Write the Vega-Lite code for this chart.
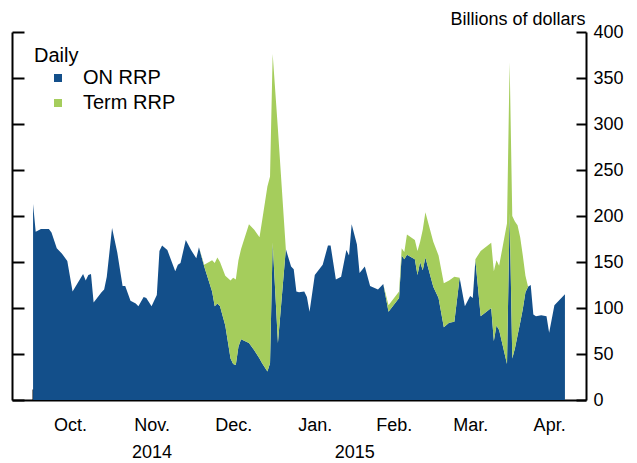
{
  "$schema": "https://vega.github.io/schema/vega-lite/v6.json",
  "width": 574,
  "height": 368,
  "autosize": {"type": "none"},
  "padding": {"left": 12, "top": 32, "right": 51, "bottom": 63},
  "background": "white",
  "config": {
    "view": {"stroke": null},
    "font": "Liberation Sans",
    "axis": {"domainColor": "black", "tickColor": "black", "domainWidth": 2, "tickWidth": 2, "labelColor": "black", "titleColor": "black", "grid": false, "labelFont": "Liberation Sans", "titleFont": "Liberation Sans", "labelOverlap": false, "labelFlush": false},
    "legend": {"labelFont": "Liberation Sans", "titleFont": "Liberation Sans", "labelColor": "black", "titleColor": "black"}
  },
  "resolve": {"axis": {"x": "independent", "y": "independent"}},
  "layer": [
    {
      "data": {"values": [
        {"date": "2014-10-01", "ON RRP": 213, "Term RRP": 0},
        {"date": "2014-10-02", "ON RRP": 183, "Term RRP": 0},
        {"date": "2014-10-04", "ON RRP": 186, "Term RRP": 0},
        {"date": "2014-10-07", "ON RRP": 186, "Term RRP": 0},
        {"date": "2014-10-08", "ON RRP": 182, "Term RRP": 0},
        {"date": "2014-10-10", "ON RRP": 165, "Term RRP": 0},
        {"date": "2014-10-12", "ON RRP": 159, "Term RRP": 0},
        {"date": "2014-10-14", "ON RRP": 151, "Term RRP": 0},
        {"date": "2014-10-16", "ON RRP": 118, "Term RRP": 0},
        {"date": "2014-10-20", "ON RRP": 137, "Term RRP": 0},
        {"date": "2014-10-21", "ON RRP": 130, "Term RRP": 0},
        {"date": "2014-10-22", "ON RRP": 136, "Term RRP": 0},
        {"date": "2014-10-23", "ON RRP": 137, "Term RRP": 0},
        {"date": "2014-10-24", "ON RRP": 106, "Term RRP": 0},
        {"date": "2014-10-27", "ON RRP": 117, "Term RRP": 0},
        {"date": "2014-10-28", "ON RRP": 120, "Term RRP": 0},
        {"date": "2014-10-29", "ON RRP": 134, "Term RRP": 0},
        {"date": "2014-10-31", "ON RRP": 187, "Term RRP": 0},
        {"date": "2014-11-02", "ON RRP": 160, "Term RRP": 0},
        {"date": "2014-11-04", "ON RRP": 124, "Term RRP": 0},
        {"date": "2014-11-05", "ON RRP": 124, "Term RRP": 0},
        {"date": "2014-11-07", "ON RRP": 108, "Term RRP": 0},
        {"date": "2014-11-09", "ON RRP": 105, "Term RRP": 0},
        {"date": "2014-11-10", "ON RRP": 102, "Term RRP": 0},
        {"date": "2014-11-12", "ON RRP": 112, "Term RRP": 0},
        {"date": "2014-11-13", "ON RRP": 111, "Term RRP": 0},
        {"date": "2014-11-15", "ON RRP": 102, "Term RRP": 0},
        {"date": "2014-11-17", "ON RRP": 114, "Term RRP": 0},
        {"date": "2014-11-18", "ON RRP": 162, "Term RRP": 0},
        {"date": "2014-11-19", "ON RRP": 168, "Term RRP": 0},
        {"date": "2014-11-21", "ON RRP": 163, "Term RRP": 0},
        {"date": "2014-11-24", "ON RRP": 140, "Term RRP": 0},
        {"date": "2014-11-25", "ON RRP": 147, "Term RRP": 0},
        {"date": "2014-11-26", "ON RRP": 149, "Term RRP": 0},
        {"date": "2014-11-28", "ON RRP": 174, "Term RRP": 0},
        {"date": "2014-11-30", "ON RRP": 163, "Term RRP": 0},
        {"date": "2014-12-02", "ON RRP": 154, "Term RRP": 0},
        {"date": "2014-12-03", "ON RRP": 166, "Term RRP": 0},
        {"date": "2014-12-05", "ON RRP": 145, "Term RRP": 2},
        {"date": "2014-12-08", "ON RRP": 118, "Term RRP": 34},
        {"date": "2014-12-09", "ON RRP": 102, "Term RRP": 47},
        {"date": "2014-12-10", "ON RRP": 105, "Term RRP": 50},
        {"date": "2014-12-11", "ON RRP": 102, "Term RRP": 48},
        {"date": "2014-12-13", "ON RRP": 81, "Term RRP": 54},
        {"date": "2014-12-15", "ON RRP": 45, "Term RRP": 85},
        {"date": "2014-12-16", "ON RRP": 39, "Term RRP": 94},
        {"date": "2014-12-17", "ON RRP": 38, "Term RRP": 93},
        {"date": "2014-12-18", "ON RRP": 58, "Term RRP": 94},
        {"date": "2014-12-19", "ON RRP": 66, "Term RRP": 98},
        {"date": "2014-12-22", "ON RRP": 62, "Term RRP": 129},
        {"date": "2014-12-24", "ON RRP": 54, "Term RRP": 131},
        {"date": "2014-12-26", "ON RRP": 45, "Term RRP": 132},
        {"date": "2014-12-27", "ON RRP": 40, "Term RRP": 155},
        {"date": "2014-12-29", "ON RRP": 31, "Term RRP": 201},
        {"date": "2014-12-30", "ON RRP": 40, "Term RRP": 203},
        {"date": "2014-12-31", "ON RRP": 171, "Term RRP": 205},
        {"date": "2015-01-02", "ON RRP": 62, "Term RRP": 232},
        {"date": "2015-01-05", "ON RRP": 164, "Term RRP": 0},
        {"date": "2015-01-07", "ON RRP": 145, "Term RRP": 0},
        {"date": "2015-01-08", "ON RRP": 142, "Term RRP": 0},
        {"date": "2015-01-09", "ON RRP": 118, "Term RRP": 0},
        {"date": "2015-01-10", "ON RRP": 117, "Term RRP": 0},
        {"date": "2015-01-12", "ON RRP": 118, "Term RRP": 0},
        {"date": "2015-01-13", "ON RRP": 112, "Term RRP": 0},
        {"date": "2015-01-14", "ON RRP": 96, "Term RRP": 0},
        {"date": "2015-01-16", "ON RRP": 136, "Term RRP": 0},
        {"date": "2015-01-19", "ON RRP": 147, "Term RRP": 0},
        {"date": "2015-01-21", "ON RRP": 168, "Term RRP": 0},
        {"date": "2015-01-22", "ON RRP": 168, "Term RRP": 0},
        {"date": "2015-01-24", "ON RRP": 131, "Term RRP": 0},
        {"date": "2015-01-26", "ON RRP": 134, "Term RRP": 0},
        {"date": "2015-01-28", "ON RRP": 163, "Term RRP": 0},
        {"date": "2015-01-29", "ON RRP": 157, "Term RRP": 0},
        {"date": "2015-01-30", "ON RRP": 191, "Term RRP": 0},
        {"date": "2015-02-01", "ON RRP": 169, "Term RRP": 0},
        {"date": "2015-02-02", "ON RRP": 138, "Term RRP": 0},
        {"date": "2015-02-04", "ON RRP": 145, "Term RRP": 0},
        {"date": "2015-02-06", "ON RRP": 124, "Term RRP": 0},
        {"date": "2015-02-09", "ON RRP": 120, "Term RRP": 0},
        {"date": "2015-02-11", "ON RRP": 126, "Term RRP": 0},
        {"date": "2015-02-13", "ON RRP": 96, "Term RRP": 7},
        {"date": "2015-02-17", "ON RRP": 111, "Term RRP": 7},
        {"date": "2015-02-18", "ON RRP": 157, "Term RRP": 8},
        {"date": "2015-02-19", "ON RRP": 153, "Term RRP": 8},
        {"date": "2015-02-20", "ON RRP": 158, "Term RRP": 22},
        {"date": "2015-02-23", "ON RRP": 153, "Term RRP": 21},
        {"date": "2015-02-24", "ON RRP": 136, "Term RRP": 26},
        {"date": "2015-02-25", "ON RRP": 150, "Term RRP": 22},
        {"date": "2015-02-26", "ON RRP": 141, "Term RRP": 44},
        {"date": "2015-02-27", "ON RRP": 155, "Term RRP": 49},
        {"date": "2015-03-02", "ON RRP": 123, "Term RRP": 49},
        {"date": "2015-03-04", "ON RRP": 111, "Term RRP": 46},
        {"date": "2015-03-06", "ON RRP": 79, "Term RRP": 48},
        {"date": "2015-03-08", "ON RRP": 84, "Term RRP": 46},
        {"date": "2015-03-10", "ON RRP": 85, "Term RRP": 49},
        {"date": "2015-03-12", "ON RRP": 133, "Term RRP": 0},
        {"date": "2015-03-14", "ON RRP": 102, "Term RRP": 0},
        {"date": "2015-03-16", "ON RRP": 113, "Term RRP": 0},
        {"date": "2015-03-17", "ON RRP": 111, "Term RRP": 0},
        {"date": "2015-03-18", "ON RRP": 152, "Term RRP": 1},
        {"date": "2015-03-20", "ON RRP": 91, "Term RRP": 71},
        {"date": "2015-03-24", "ON RRP": 100, "Term RRP": 71},
        {"date": "2015-03-25", "ON RRP": 64, "Term RRP": 76},
        {"date": "2015-03-26", "ON RRP": 81, "Term RRP": 71},
        {"date": "2015-03-27", "ON RRP": 76, "Term RRP": 70},
        {"date": "2015-03-30", "ON RRP": 39, "Term RRP": 153},
        {"date": "2015-03-31", "ON RRP": 203, "Term RRP": 164},
        {"date": "2015-04-01", "ON RRP": 45, "Term RRP": 155},
        {"date": "2015-04-02", "ON RRP": 56, "Term RRP": 138},
        {"date": "2015-04-03", "ON RRP": 70, "Term RRP": 120},
        {"date": "2015-04-04", "ON RRP": 84, "Term RRP": 93},
        {"date": "2015-04-05", "ON RRP": 99, "Term RRP": 58},
        {"date": "2015-04-06", "ON RRP": 117, "Term RRP": 18},
        {"date": "2015-04-07", "ON RRP": 123, "Term RRP": 0},
        {"date": "2015-04-08", "ON RRP": 125, "Term RRP": 0},
        {"date": "2015-04-09", "ON RRP": 93, "Term RRP": 0},
        {"date": "2015-04-10", "ON RRP": 91, "Term RRP": 0},
        {"date": "2015-04-12", "ON RRP": 92, "Term RRP": 0},
        {"date": "2015-04-14", "ON RRP": 91, "Term RRP": 0},
        {"date": "2015-04-15", "ON RRP": 73, "Term RRP": 0},
        {"date": "2015-04-17", "ON RRP": 103, "Term RRP": 0},
        {"date": "2015-04-21", "ON RRP": 115, "Term RRP": 0}
      ]},
      "transform": [{"fold": ["ON RRP", "Term RRP"], "as": ["series", "value"]}],
      "mark": {"type": "area", "interpolate": "linear"},
      "encoding": {
        "x": {
          "field": "date", "type": "temporal",
          "scale": {"type": "utc", "nice": false, "domain": [{"year": 2014, "month": 9, "date": 23, "utc": true}, {"year": 2015, "month": 4, "date": 29, "utc": true}]},
          "axis": {
            "orient": "bottom", "title": null, "labels": false, "tickSize": -11,
            "values": [
              {"year": 2014, "month": 10, "date": 1, "utc": true},
              {"year": 2014, "month": 11, "date": 1, "utc": true},
              {"year": 2014, "month": 12, "date": 1, "utc": true},
              {"year": 2015, "month": 1, "date": 1, "utc": true},
              {"year": 2015, "month": 2, "date": 1, "utc": true},
              {"year": 2015, "month": 3, "date": 1, "utc": true},
              {"year": 2015, "month": 4, "date": 1, "utc": true}
            ]
          }
        },
        "y": {
          "field": "value", "type": "quantitative", "stack": "zero",
          "scale": {"domain": [0, 400], "nice": false},
          "axis": {
            "orient": "right", "values": [0, 50, 100, 150, 200, 250, 300, 350, 400],
            "tickSize": -10, "labelPadding": 17, "labelFontSize": 18, "labelAlign": "left", "labelBaseline": "middle",
            "title": "Billions of dollars", "titleAngle": 0, "titleX": -1, "titleY": -8, "titleAlign": "right", "titleBaseline": "alphabetic", "titleFontSize": 18, "titleFontWeight": "normal"
          }
        },
        "order": {"field": "series", "sort": "ascending"},
        "color": {
          "field": "series", "type": "nominal",
          "scale": {"domain": ["ON RRP", "Term RRP"], "range": ["#134f8a", "#a5cd5c"]},
          "legend": {
            "title": "Daily", "orient": "none", "legendX": 22, "legendY": 14,
            "titleFontSize": 20, "titleFontWeight": "normal", "labelFontSize": 20,
            "symbolType": "square", "symbolSize": 64, "symbolStrokeWidth": 0, "symbolOffset": 14,
            "labelOffset": 15, "rowPadding": 5, "titlePadding": 2
          }
        }
      }
    },
    {
      "data": {"values": [
        {"month": "2014-10-15", "v": 0},
        {"month": "2014-11-15", "v": 0},
        {"month": "2014-12-16", "v": 0},
        {"month": "2015-01-16", "v": 0},
        {"month": "2015-02-15", "v": 0},
        {"month": "2015-03-16", "v": 0},
        {"month": "2015-04-15", "v": 0}
      ]},
      "mark": {"type": "point", "opacity": 0},
      "encoding": {
        "x": {
          "field": "month", "type": "temporal",
          "scale": {"type": "utc", "nice": false, "domain": [{"year": 2014, "month": 9, "date": 23, "utc": true}, {"year": 2015, "month": 4, "date": 29, "utc": true}]},
          "axis": {
            "orient": "bottom", "title": null, "ticks": false, "domain": false, "labelPadding": 16, "labelFontSize": 18, "labelAlign": "center",
            "labelExpr": "utcFormat(datum.value, '%b.')",
            "values": [
              {"year": 2014, "month": 10, "date": 15, "utc": true},
              {"year": 2014, "month": 11, "date": 15, "utc": true},
              {"year": 2014, "month": 12, "date": 16, "utc": true},
              {"year": 2015, "month": 1, "date": 16, "utc": true},
              {"year": 2015, "month": 2, "date": 15, "utc": true},
              {"year": 2015, "month": 3, "date": 16, "utc": true},
              {"year": 2015, "month": 4, "date": 15, "utc": true}
            ]
          }
        },
        "y": {
          "field": "v", "type": "quantitative",
          "scale": {"domain": [0, 400], "nice": false},
          "axis": {"orient": "left", "title": null, "labels": false, "tickSize": -12, "values": [0, 50, 100, 150, 200, 250, 300, 350, 400]}
        }
      }
    },
    {
      "data": {"values": [
        {"year": "2014-11-15", "label": "2014"},
        {"year": "2015-01-31", "label": "2015"}
      ]},
      "mark": {"type": "point", "opacity": 0},
      "encoding": {
        "x": {
          "field": "year", "type": "temporal",
          "scale": {"type": "utc", "nice": false, "domain": [{"year": 2014, "month": 9, "date": 23, "utc": true}, {"year": 2015, "month": 4, "date": 29, "utc": true}]},
          "axis": {
            "orient": "bottom", "title": null, "ticks": false, "domain": false, "labelPadding": 43, "labelFontSize": 18, "labelAlign": "center",
            "labelExpr": "utcFormat(datum.value, '%Y')",
            "values": [
              {"year": 2014, "month": 11, "date": 15, "utc": true},
              {"year": 2015, "month": 1, "date": 31, "utc": true}
            ]
          }
        }
      }
    }
  ]
}
